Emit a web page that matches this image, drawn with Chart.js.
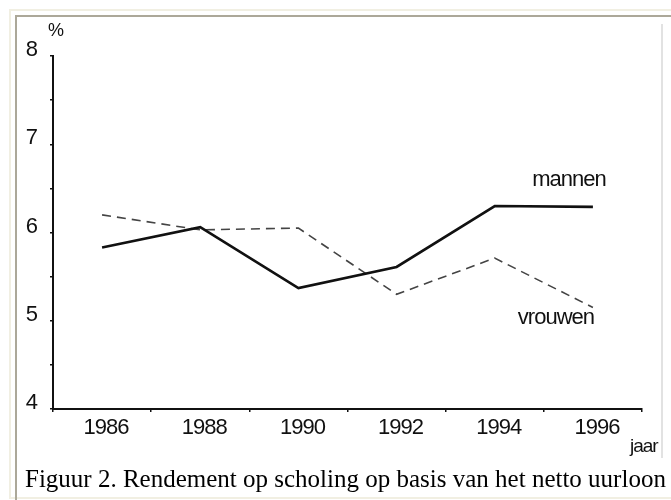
<!DOCTYPE html>
<html lang="nl">
<head>
  <meta charset="UTF-8">
  <title>Rendement op scholing</title>
  <script src="https://cdn.jsdelivr.net/npm/chart.js"></script>
  <style>
    body { margin: 0; background: #fff; }
    #wrap { position: relative; width: 671px; height: 500px; overflow: hidden; }
    .frameOuter { position: absolute; left: 9px; top: 9px; width: 800px; height: 486px; border: 2px solid #f1efe2; }
    .frameInner { position: absolute; left: 15px; top: 15px; width: 800px; height: 600px; border-left: 2px solid #aca899; border-top: 2px solid #aca899; }
    .imgEdge { position: absolute; left: 661px; top: 24px; width: 2px; height: 434px; background: #e2e2e2; }
    #caption { position: absolute; left: 25px; top: 466px; font: 25px/25px "Liberation Serif", "Times New Roman", serif; color: #000; white-space: nowrap; }
    canvas { position: absolute; left: 0; top: 0; }
  </style>
</head>
<body>
  <div id="wrap">
    <div class="frameOuter"></div>
    <div class="frameInner"></div>
    <div class="imgEdge"></div>
    <canvas id="chart" width="671" height="500"></canvas>
    <div id="caption">Figuur 2. Rendement op scholing op basis van het netto uurloon</div>
  </div>

  <script>
    const years = ["1986", "1988", "1990", "1992", "1994", "1996"]
    const mannen = [5.83, 6.06, 5.37, 5.61, 6.30, 6.29]
    const vrouwen = [6.20, 6.03, 6.05, 5.30, 5.71, 5.15]
    const yMin = 4
    const yMax = 8

    const sans = "'Liberation Sans', Arial, sans-serif"

    // the scanned figure has tightly packed glyphs
    const tightText = {
      id: 'tightText',
      beforeDraw(chart) { chart.ctx.letterSpacing = '-1px' }
    }

    // labels written straight onto the plot: series names, unit and axis name
    const labelsPlugin = {
      id: 'labels',
      afterDraw(chart) {
        const ctx = chart.ctx
        const area = chart.chartArea
        const m = chart.getDatasetMeta(0).data
        const v = chart.getDatasetMeta(1).data
        ctx.save()
        ctx.letterSpacing = '-1px'
        ctx.fillStyle = '#111'
        ctx.textAlign = 'center'
        ctx.textBaseline = 'middle'
        ctx.font = '22px ' + sans
        const lastM = m[m.length - 1]
        const lastV = v[v.length - 1]
        ctx.fillText('mannen', lastM.x - 24, lastM.y - 27)
        ctx.fillText('vrouwen', lastV.x - 37, lastV.y + 10)

        ctx.letterSpacing = '0px'
        ctx.font = '18px ' + sans
        ctx.fillText('%', area.left + 3, area.top - 25)

        ctx.beginPath()
        ctx.rect(0, 0, 661, 500)
        ctx.clip()
        ctx.letterSpacing = '-1px'
        ctx.textAlign = 'left'
        ctx.textBaseline = 'alphabetic'
        ctx.font = '19px ' + sans
        ctx.fillText('jaar', area.right - 12, area.bottom + 43)
        ctx.restore()
      }
    }

    const ctx = document.getElementById('chart').getContext('2d')
    const chart = new Chart(ctx, {
      type: 'line',
      data: {
        labels: years,
        datasets: [
          {
            label: 'mannen',
            data: mannen,
            borderColor: '#111',
            borderWidth: 2.6,
            pointRadius: 0,
            tension: 0
          },
          {
            label: 'vrouwen',
            data: vrouwen,
            borderColor: '#444',
            borderWidth: 1.6,
            borderDash: [9, 6],
            pointRadius: 0,
            tension: 0
          }
        ]
      },
      options: {
        responsive: false,
        animation: false,
        layout: { padding: { left: 13, right: 29, top: 56, bottom: 41 } },
        plugins: {
          legend: { display: false },
          tooltip: { enabled: false }
        },
        scales: {
          x: {
            offset: true,
            grid: { offset: true, drawOnChartArea: false, drawTicks: true, tickLength: 3, color: '#111', lineWidth: 1.5 },
            border: { display: true, color: '#111', width: 2 },
            ticks: { color: '#111', font: { size: 22, family: sans }, padding: 3, labelOffset: 4, maxRotation: 0 },
            afterFit(scale) { scale.height = 50 }
          },
          y: {
            min: yMin,
            max: yMax,
            grid: { drawOnChartArea: false, drawTicks: true, tickLength: 3, color: '#111', lineWidth: 1.5 },
            border: { display: true, color: '#111', width: 2 },
            ticks: {
              stepSize: 0.5,
              autoSkip: false,
              color: '#111',
              font: { size: 22, family: sans },
              padding: 13,
              labelOffset: -6,
              callback: (val) => Number.isInteger(val) ? val : ''
            },
            afterFit(scale) { scale.width = 40 }
          }
        }
      },
      plugins: [tightText, labelsPlugin]
    })
  </script>
</body>
</html>
